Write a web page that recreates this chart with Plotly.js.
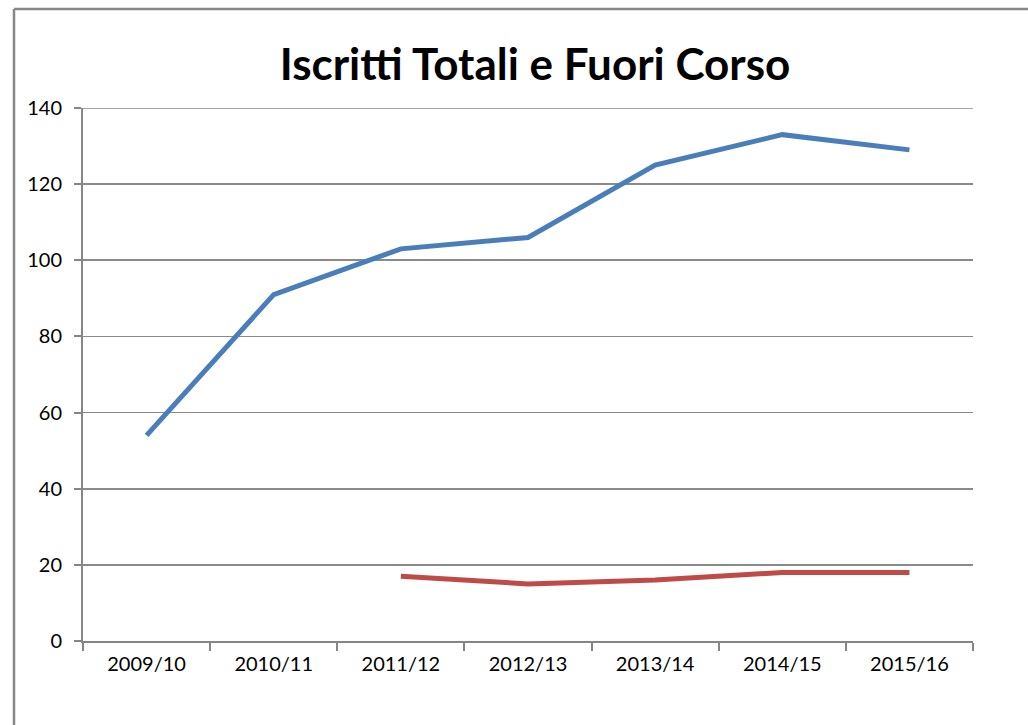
<!DOCTYPE html>
<html>
<head>
<meta charset="utf-8">
<script src="https://cdn.plot.ly/plotly-3.0.1.min.js"></script>
<style>
html,body{margin:0;padding:0;background:#fff;overflow:hidden;}
#chart{width:1028px;height:725px;}
</style>
</head>
<body>
<div id="chart"></div>
<script>
const categories = ["2009/10","2010/11","2011/12","2012/13","2013/14","2014/15","2015/16"];
const iscrittiTotali = [54, 91, 103, 106, 125, 133, 129];
const fuoriCorso = [null, null, 17, 15, 16, 18, 18];
const yTicks = [0, 20, 40, 60, 80, 100, 120, 140];

const W = 1028, H = 725;
const mL = 83, mR = 55, mT = 108, mB = 84;
const pw = W - mL - mR, ph = H - mT - mB;
const px = x => (x - mL) / pw;
const py = y => (H - mB - y) / ph;

const fontFam = "Lato, 'Open Sans', 'Liberation Sans', sans-serif";

const traces = [
  {x: categories, y: iscrittiTotali, type: 'scatter', mode: 'lines', name: 'Iscritti Totali',
   line: {color: '#4a7ebb', width: 5}, connectgaps: false},
  {x: categories, y: fuoriCorso, type: 'scatter', mode: 'lines', name: 'Fuori Corso',
   line: {color: '#be4b48', width: 5}, connectgaps: false}
];

const gridColor = '#8a8a8a';
const frameColor = '#888888';

const layout = {
  width: W, height: H,
  margin: {l: mL, r: mR, t: mT, b: mB},
  paper_bgcolor: '#fff', plot_bgcolor: '#fff',
  showlegend: false,
  title: {text: '<b>Iscritti Totali e Fuori Corso</b>', font: {family: fontFam, size: 44, color: '#000'},
          x: px(535), xref: 'paper', xanchor: 'center', y: 1 - 65 / H, yanchor: 'middle'},
  xaxis: {type: 'category', range: [-0.5, 6.5], tickson: 'boundaries', ticks: 'outside', ticklen: 8,
          tickcolor: '#868686', tickwidth: 2, showgrid: false, showline: true, linecolor: '#868686', linewidth: 2,
          tickfont: {family: fontFam, size: 20, color: '#000'}, ticklabelstandoff: 4, zeroline: false, fixedrange: true},
  yaxis: {range: [0, 140], tickvals: yTicks, ticks: 'outside', ticklen: 7, tickcolor: '#868686', tickwidth: 2,
          showgrid: true, gridcolor: gridColor, gridwidth: 1.6, showline: true, linecolor: '#868686', linewidth: 2,
          zeroline: false, tickfont: {family: fontFam, size: 20, color: '#000'}, ticklabelstandoff: 8, fixedrange: true},
  shapes: [
    {type: 'line', xref: 'paper', yref: 'y', x0: 0, x1: 1, y0: yTicks[yTicks.length - 1], y1: yTicks[yTicks.length - 1],
     line: {color: gridColor, width: 1.6}, layer: 'below'},
    {type: 'line', xref: 'paper', yref: 'paper', x0: px(14), x1: px(14), y0: py(740), y1: py(9),
     line: {color: frameColor, width: 2.5}, layer: 'below'},
    {type: 'line', xref: 'paper', yref: 'paper', x0: px(14), x1: px(1040), y0: py(9), y1: py(9),
     line: {color: frameColor, width: 2.5}, layer: 'below'}
  ]
};

Plotly.newPlot('chart', traces, layout, {displayModeBar: false, staticPlot: true});
</script>
</body>
</html>
